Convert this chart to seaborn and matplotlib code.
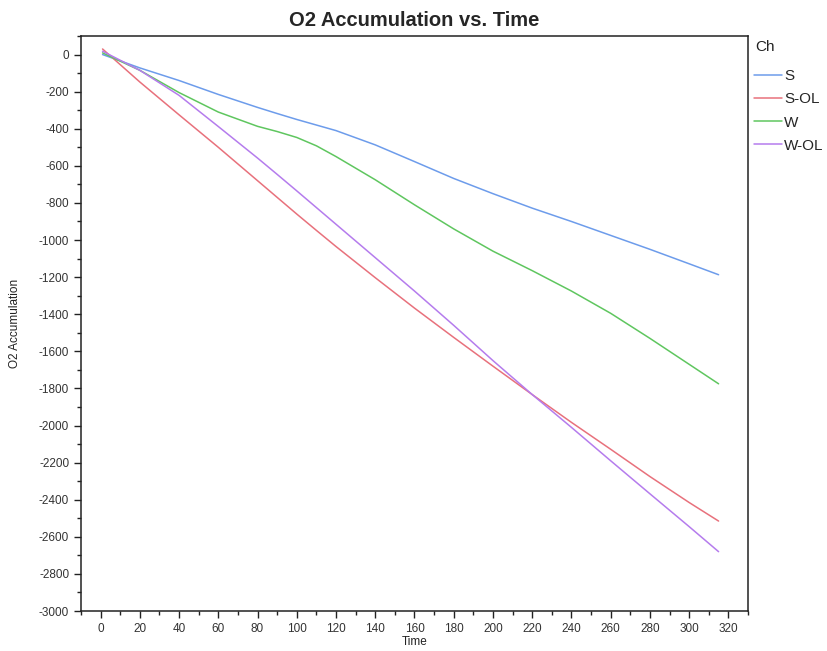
import numpy as np
import pandas as pd
import matplotlib
matplotlib.use("Agg")
import matplotlib.pyplot as plt
import seaborn as sns
from matplotlib.ticker import MultipleLocator

# ---- data ----
time = [1, 20, 40, 60, 80, 90, 100, 110, 120, 140, 160, 180, 200, 220, 240, 260, 280, 300, 315]
s_vals = [0, -72, -140, -215, -285, -318, -350, -380, -410, -487, -577, -668, -750, -828, -900, -975, -1050, -1128, -1187]
sol_vals = [30, -148, -325, -500, -680, -770, -860, -948, -1035, -1203, -1367, -1525, -1680, -1833, -1983, -2128, -2275, -2415, -2515]
w_vals = [9, -85, -205, -310, -387, -415, -447, -492, -550, -675, -810, -940, -1060, -1165, -1275, -1395, -1530, -1670, -1775]
wol_vals = [18, -85, -220, -388, -558, -646, -735, -825, -915, -1095, -1275, -1460, -1650, -1833, -2010, -2190, -2368, -2545, -2680]
channels = ["S", "S-OL", "W", "W-OL"]
colors = ["#6d9ceb", "#e8717c", "#5fc65f", "#b57ced"]

frames = []
for ch, vals in zip(channels, [s_vals, sol_vals, w_vals, wol_vals]):
    frames.append(pd.DataFrame({"Time": time, "O2 Accumulation": vals, "Ch": ch}))
df = pd.concat(frames, ignore_index=True)

sns.set_style("ticks")
plt.rcParams["font.family"] = ["Liberation Sans", "DejaVu Sans"]
plt.rcParams["axes.unicode_minus"] = False

fig = plt.figure(figsize=(8.28, 6.51), dpi=100)
ax = fig.add_axes([0.0978, 0.0614, 0.8056, 0.8833])

sns.lineplot(data=df, x="Time", y="O2 Accumulation", hue="Ch",
             palette=dict(zip(channels, colors)), hue_order=channels,
             linewidth=1.1, ax=ax)

ax.set_xlim(-10, 330)
ax.set_ylim(-3000, 100)
ax.xaxis.set_major_locator(MultipleLocator(20))
ax.xaxis.set_minor_locator(MultipleLocator(10))
ax.yaxis.set_major_locator(MultipleLocator(200))
ax.yaxis.set_minor_locator(MultipleLocator(100))
ax.tick_params(which="major", direction="out", length=5, width=1, labelsize=8.5,
               labelcolor="#333333", color="#222222")
ax.tick_params(which="minor", direction="out", length=3, width=1, color="#222222")
for sp in ax.spines.values():
    sp.set_visible(True)
    sp.set_linewidth(1.1)
    sp.set_color("#222222")

ax.set_xlabel("Time", fontsize=8.5, labelpad=1, color="#222222")
ax.set_ylabel("O2 Accumulation", fontsize=8.5, labelpad=13, color="#222222")
ax.set_title("O2 Accumulation vs. Time", fontsize=14.5, fontweight="bold", pad=7)

handles, labels = ax.get_legend_handles_labels()
ax.legend(handles, labels, loc="upper left",
          bbox_to_anchor=(0.909, 0.896), bbox_transform=fig.transFigure,
          frameon=False, fontsize=11,
          handlelength=1.8, handletextpad=0.15, labelspacing=0.6, borderpad=0.1,
          borderaxespad=0)
fig.text(755 / 828, 1 - 47 / 651, "Ch", fontsize=11, ha="left", va="center", color="#222222")

fig.savefig("out.png", dpi=100)
